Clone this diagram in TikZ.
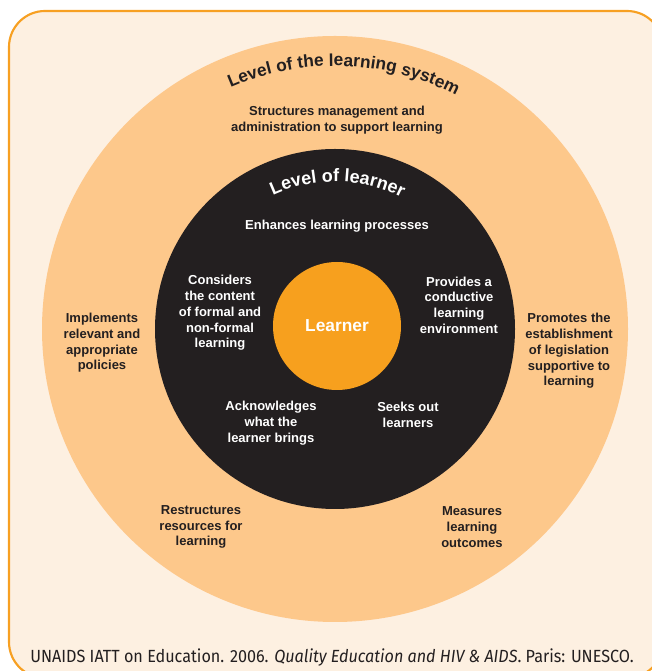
\documentclass[tikz,border=0pt]{standalone}
\usepackage{fontspec}
\setmainfont{Liberation Sans}
\newfontfamily\citefont[FakeStretch=0.92]{Fira Sans}
\usetikzlibrary{decorations.text}
\definecolor{framecol}{HTML}{F7A022}
\definecolor{papercol}{HTML}{FDF0E1}
\definecolor{systemcol}{HTML}{FDC88B}
\definecolor{learnercol}{HTML}{231F20}
\definecolor{corecol}{HTML}{F7A01E}
\tikzset{blurb/.style={font=\bfseries\fontsize{9.75pt}{11.8pt}\selectfont, align=center, inner sep=0pt}}

\begin{document}
\begin{tikzpicture}[
		x=0.75pt, y=0.75pt,
		level/.style={circle, inner sep=0pt},
		darkblurb/.style={blurb, text=learnercol},
		lightblurb/.style={blurb, text=white},
		arctitle/.style={decorate, decoration={text along path, text align=center, text={#1}}}
		]
		\useasboundingbox (0,0) rectangle (652,671);
		% Frame
		\begin{scope}
			\clip (0,0) rectangle (652,671);
			\draw[framecol, fill=papercol, line width=1.6pt, rounded corners=27pt] (9,660) rectangle (663,-7);
		\end{scope}
		\coordinate (c) at (335,342);

		% Three levels
		\node[level, fill=systemcol, minimum size=439.5pt] (system) at (c) {};
		\node[level, fill=learnercol, minimum size=270pt] (learnerlevel) at (c) {};
		\node[level, fill=corecol, minimum size=96pt, text=white, font=\bfseries\fontsize{13pt}{15pt}\selectfont] (learner) at (337,345) {Learner};

		% Curved titles
		\path[arctitle={|\bfseries\fontsize{13pt}{15pt}\selectfont\color{learnercol}|Level of the learning system}]
			(c) ++(114:197.25pt) arc[start angle=114, end angle=62, radius=197.25pt];
		\path[arctitle={|\bfseries\fontsize{13.5pt}{15pt}\selectfont\color{white}|Level of learner}]
			(c) ++(115:110.5pt) arc[start angle=115, end angle=63, radius=110.5pt];

		% Level of the learning system
		\node[darkblurb] (structures) at (337,551) {Structures management and\\administration to support learning};
		\node[darkblurb] (implements) at (102,328) {Implements\\relevant and\\appropriate\\policies};
		\node[darkblurb] (promotes) at (569,320) {Promotes the\\establishment\\of legislation\\supportive to\\learning};
		\node[darkblurb] (restructures) at (201,144) {Restructures\\resources for\\learning};
		\node[darkblurb] (measures) at (472,144) {Measures\\learning\\outcomes};

		% Level of learner
		\node[lightblurb] (enhances) at (337,445) {Enhances learning processes};
		\node[lightblurb] (considers) at (220,358) {Considers\\the content\\of formal and\\non-formal\\learning};
		\node[lightblurb] (provides) at (459,366) {Provides a\\conductive\\learning\\environment};
		\node[lightblurb] (acknowledges) at (271,248) {Acknowledges\\what the\\learner brings};
		\node[lightblurb] (seeks) at (408,256) {Seeks out\\learners};

		% Source
		\node[text=learnercol, font=\citefont\fontsize{13.2pt}{15pt}\selectfont, inner sep=0pt] (source) at (332,13)
			{UNAIDS IATT on Education. 2006. \textit{Quality Education and HIV \& AIDS}. Paris: UNESCO.};
	\end{tikzpicture}
\end{document}
